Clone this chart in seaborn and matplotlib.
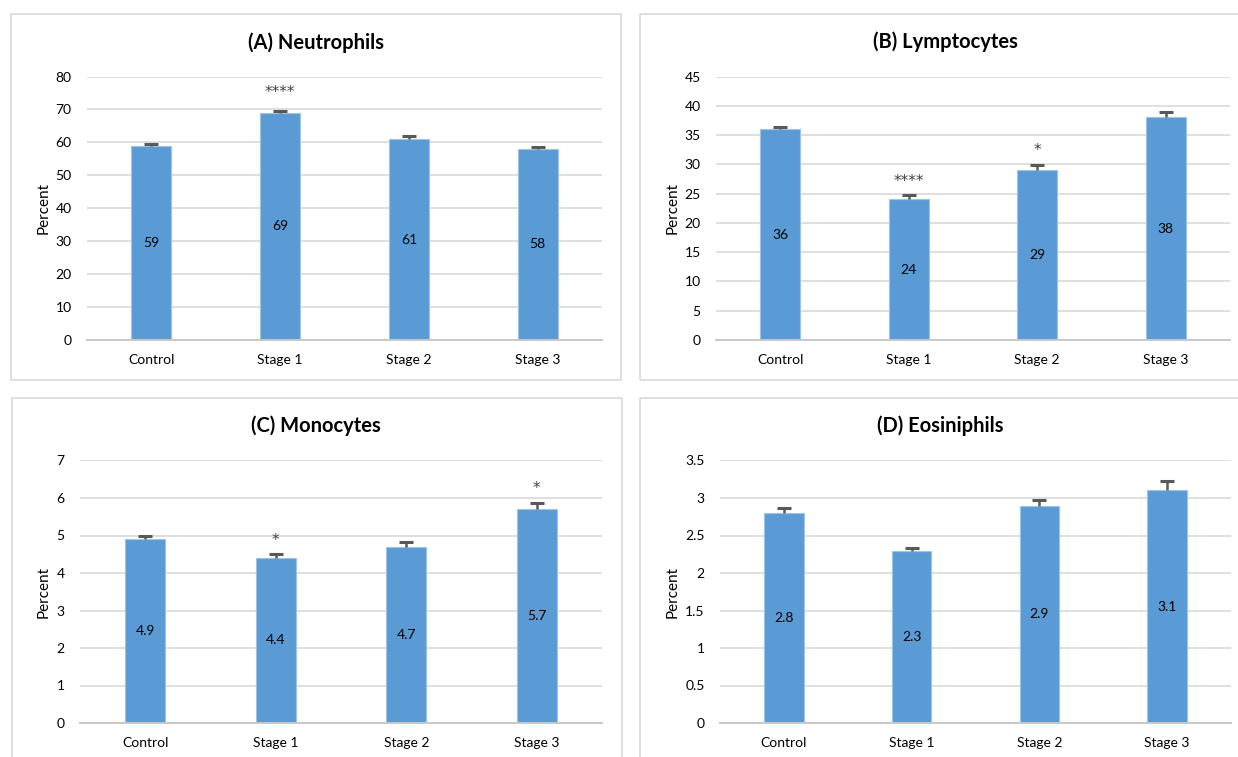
import matplotlib
matplotlib.use("Agg")
import matplotlib.pyplot as plt
from matplotlib.patches import Rectangle
import seaborn as sns
import pandas as pd
import numpy as np

sns.set_theme(style="white")
plt.rcParams['font.family'] = ['Lato', 'DejaVu Sans']

categories = ["Control", "Stage 1", "Stage 2", "Stage 3"]

neutro_vals = [59, 69, 61, 58]
neutro_err = [0.4, 0.6, 1.0, 0.5]
neutro_stars = ["", "****", "", ""]

lympho_vals = [36, 24, 29, 38]
lympho_err = [0.45, 0.7, 0.85, 0.95]
lympho_stars = ["", "****", "*", ""]

mono_vals = [4.9, 4.4, 4.7, 5.7]
mono_err = [0.08, 0.1, 0.12, 0.17]
mono_stars = ["", "*", "", "*"]

eos_vals = [2.8, 2.3, 2.9, 3.1]
eos_err = [0.07, 0.03, 0.08, 0.13]
eos_stars = ["", "", "", ""]

titles = ["(A) Neutrophils", "(B) Lymptocytes", "(C) Monocytes", "(D) Eosiniphils"]
ymaxes = [80, 45, 7, 3.5]
ysteps = [10, 5, 1, 0.5]

W, H = 1238, 757
fig = plt.figure(figsize=(W / 100, H / 100), dpi=100)

BAR = "#5B9BD5"
GRID = "#D9D9D9"
TXT = "#404040"
ERR = "#595959"

boxes = [(11, 14, 621, 380), (640, 14, 1250, 380), (12, 398, 622, 770), (640, 398, 1250, 770)]
for (x0, y0, x1, y1) in boxes:
    fig.add_artist(Rectangle((x0 / W, 1 - y1 / H), (x1 - x0) / W, (y1 - y0) / H,
                             transform=fig.transFigure, fill=False,
                             edgecolor=GRID, linewidth=1.2))

rects = [(87, 602, 76.5, 340), (716, 1230, 76.5, 340), (80, 602, 460.5, 723), (720, 1231, 460.5, 723)]
title_pos = [(316, 43), (945, 42), (316, 426), (940, 426)]
ylabel_x = [51, 680, 51, 680]
star_off = [10, 7, 7, 7]

data = [(neutro_vals, neutro_err, neutro_stars),
        (lympho_vals, lympho_err, lympho_stars),
        (mono_vals, mono_err, mono_stars),
        (eos_vals, eos_err, eos_stars)]

for i, ((vals, errs, stars), (l, r, t, b)) in enumerate(zip(data, rects)):
    ax = fig.add_axes([l / W, 1 - b / H, (r - l) / W, (b - t) / H])
    df = pd.DataFrame({"cat": categories, "val": vals})
    sns.barplot(data=df, x="cat", y="val", ax=ax, color=BAR, saturation=1,
                width=0.31, edgecolor="#9DC3E6", linewidth=0.8, errorbar=None)
    xs = np.arange(len(vals))
    v = np.array(vals, dtype=float)
    e = np.array(errs, dtype=float)
    ax.vlines(xs, v, v + e, color=ERR, linewidth=1.8, zorder=3)
    ax.plot(xs, v + e, linestyle="none", marker="_", markersize=10,
            markeredgewidth=2.2, color=ERR, zorder=3)
    labels = [("%g" % val) for val in vals]
    ax.bar_label(ax.containers[0], labels=labels, label_type="center",
                 fontsize=10, color="black")
    for j, s in enumerate(stars):
        if s:
            ax.annotate(s, (j, v[j] + e[j]), xytext=(0, star_off[i]), textcoords="offset points",
                        ha="center", va="baseline", fontsize=11, color=TXT,
                        family=["DejaVu Sans"])
    ax.set_xlim(-0.5, 3.5)
    ax.set_ylim(0, ymaxes[i])
    ticks = np.arange(0, ymaxes[i] + ysteps[i] / 2, ysteps[i])
    ax.set_yticks(ticks)
    ax.set_yticklabels(["%g" % tv for tv in ticks])
    ax.grid(axis="y", color=GRID, linewidth=1.2)
    ax.set_axisbelow(True)
    for sp in ["top", "right", "left"]:
        ax.spines[sp].set_visible(False)
    ax.spines["bottom"].set_color("#C8C8C8")
    ax.spines["bottom"].set_linewidth(1.4)
    ax.tick_params(axis="both", length=0, labelsize=10, colors="black")
    ax.tick_params(axis="y", pad=11)
    ax.tick_params(axis="x", pad=10)
    ax.set_xlabel("")
    ax.set_ylabel("Percent", fontsize=11, color="black")
    ax.yaxis.set_label_coords((ylabel_x[i] - l) / (r - l), 0.5)
    ax.patch.set_alpha(0)
    tx, ty = title_pos[i]
    fig.text(tx / W, 1 - ty / H, titles[i], ha="center", va="center",
             fontsize=14.5, fontweight="bold", color="black")

fig.savefig("out.png", dpi=100, facecolor="white")
